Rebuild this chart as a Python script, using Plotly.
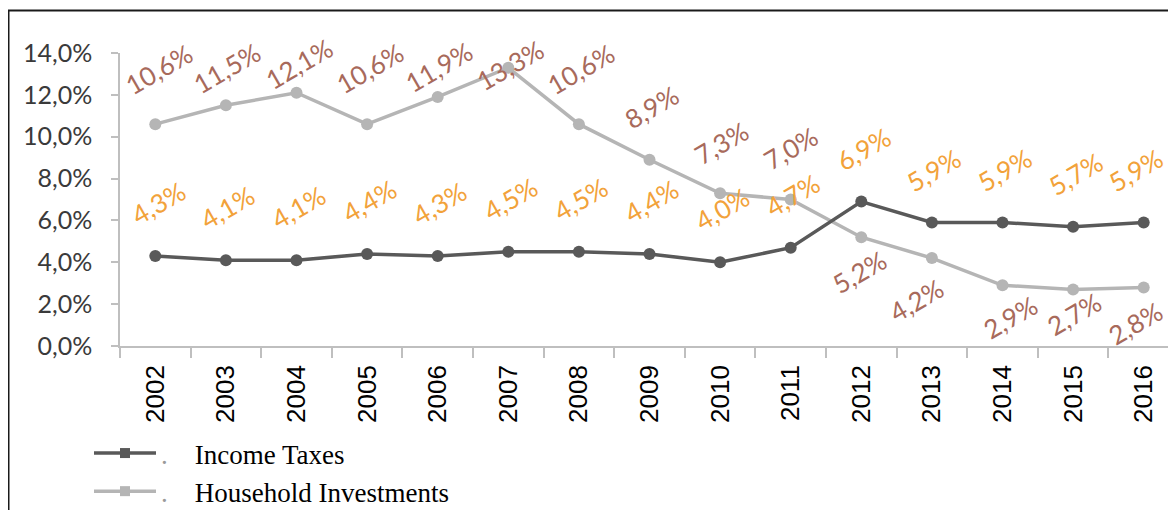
import plotly.graph_objects as go

years = ["2002", "2003", "2004", "2005", "2006", "2007", "2008", "2009",
         "2010", "2011", "2012", "2013", "2014", "2015", "2016"]
income_taxes = [4.3, 4.1, 4.1, 4.4, 4.3, 4.5, 4.5, 4.4, 4.0, 4.7, 6.9, 5.9, 5.9, 5.7, 5.9]
household_investments = [10.6, 11.5, 12.1, 10.6, 11.9, 13.3, 10.6, 8.9, 7.3, 7.0, 5.2, 4.2, 2.9, 2.7, 2.8]
y_ticks = [0, 2, 4, 6, 8, 10, 12, 14]

# label placement offsets (pixels) - styling only
hh_label_dy = [55, 37, 29, 56, 30, 3, 55, 53, 50, 52, -35, -42, -32, -25, -36]
hh_label_dx = [4, 1, 2, 3, 1, 2, 2, 2, 1, 0, -2, -15, 8, 1, -8]
it_label_dy = 53
it_label_dx = [3, 2, 2, 2, 2, 2, 2, 2, 2, 2, 2, 2, 2, 2, -8]

C_IT = "#595959"
C_HH = "#b5b5b5"
C_IT_LBL = "#f2a23a"
C_HH_LBL = "#a86a5b"
LABEL_FONT = dict(family="Lato", size=26)
LABEL_ANGLE = -30


def fmt(v):
    return f"{v:.1f}".replace(".", ",") + "%"


fig = go.Figure()

fig.add_trace(go.Scatter(
    x=years, y=household_investments, mode="lines+markers", name="Household Investments",
    line=dict(color=C_HH, width=3.5), marker=dict(color=C_HH, size=12, symbol="circle"),
    showlegend=False, cliponaxis=False, hoverinfo="skip"))
fig.add_trace(go.Scatter(
    x=years, y=income_taxes, mode="lines+markers", name="Income Taxes",
    line=dict(color=C_IT, width=3.5), marker=dict(color=C_IT, size=12, symbol="circle"),
    showlegend=False, cliponaxis=False, hoverinfo="skip"))

# legend entries (square markers as in the original)
DOT = "<span style='color:#9a9a9a'>.</span>\u2003"
fig.add_trace(go.Scatter(
    x=[years[0]], y=[None], mode="lines+markers", name=DOT + "Income Taxes",
    line=dict(color=C_IT, width=3.5), marker=dict(color=C_IT, size=10, symbol="square"),
    hoverinfo="skip"))
fig.add_trace(go.Scatter(
    x=[years[0]], y=[None], mode="lines+markers", name=DOT + "Household Investments",
    line=dict(color=C_HH, width=3.5), marker=dict(color=C_HH, size=10, symbol="square"),
    hoverinfo="skip"))

annotations = []
for i, v in enumerate(household_investments):
    annotations.append(dict(
        x=i, y=v, xref="x", yref="y", text=fmt(v), showarrow=False,
        textangle=LABEL_ANGLE, xanchor="center", yanchor="middle",
        xshift=hh_label_dx[i], yshift=hh_label_dy[i],
        font=dict(color=C_HH_LBL, **LABEL_FONT)))
for i, v in enumerate(income_taxes):
    annotations.append(dict(
        x=i, y=v, xref="x", yref="y", text=fmt(v), showarrow=False,
        textangle=LABEL_ANGLE, xanchor="center", yanchor="middle",
        xshift=it_label_dx[i], yshift=it_label_dy,
        font=dict(color=C_IT_LBL, **LABEL_FONT)))

# page body adds an 8px offset, so the figure is laid out 8px smaller
W, H = 1160, 502
ML, MR, MT, MB = 112, 0, 45, 164
pw, ph = W - ML - MR, H - MT - MB
cat_px = 70.6


def px_x(p):
    return (p - ML) / pw


def px_y(p):
    return (H - MB - p) / ph


fig.update_layout(
    template="none",
    width=W, height=H,
    margin=dict(l=ML, r=MR, t=MT, b=MB, pad=0, autoexpand=False),
    paper_bgcolor="white", plot_bgcolor="white",
    annotations=annotations,
    showlegend=True,
    legend=dict(
        x=px_x(81), y=px_y(421), xanchor="left", yanchor="top",
        orientation="v", itemwidth=62,
        font=dict(family="Liberation Serif", size=27, color="#000000"),
        bgcolor="rgba(0,0,0,0)", borderwidth=0,
    ),
    shapes=[dict(
        type="rect", xref="paper", yref="paper",
        x0=px_x(0.5), x1=px_x(1185), y0=px_y(530), y1=px_y(2.5),
        line=dict(color="#1a1a1a", width=2), fillcolor="rgba(0,0,0,0)", layer="above")],
    xaxis=dict(
        type="category", categoryorder="array", categoryarray=years,
        range=[-0.5, -0.5 + pw / cat_px],
        showgrid=False, zeroline=False,
        showline=True, linecolor="#bfbfbf", linewidth=1.5,
        ticks="outside", tickson="boundaries", ticklen=10, tickcolor="#bfbfbf", tickwidth=1.5,
        tickangle=-90, ticklabelstandoff=7,
        tickfont=dict(family="Liberation Sans", size=26, color="#000000"),
        automargin=False,
    ),
    yaxis=dict(
        range=[0, 14], tickmode="array", tickvals=y_ticks, ticktext=[fmt(t) for t in y_ticks],
        showgrid=False, zeroline=False,
        showline=True, linecolor="#bfbfbf", linewidth=1.5,
        ticks="outside", ticklen=7, tickcolor="#bfbfbf", tickwidth=1.5,
        ticklabelstandoff=14,
        tickfont=dict(family="Lato", size=25, color="#3a3a3a"),
        automargin=False,
    ),
)

fig.write_html("out.html")
